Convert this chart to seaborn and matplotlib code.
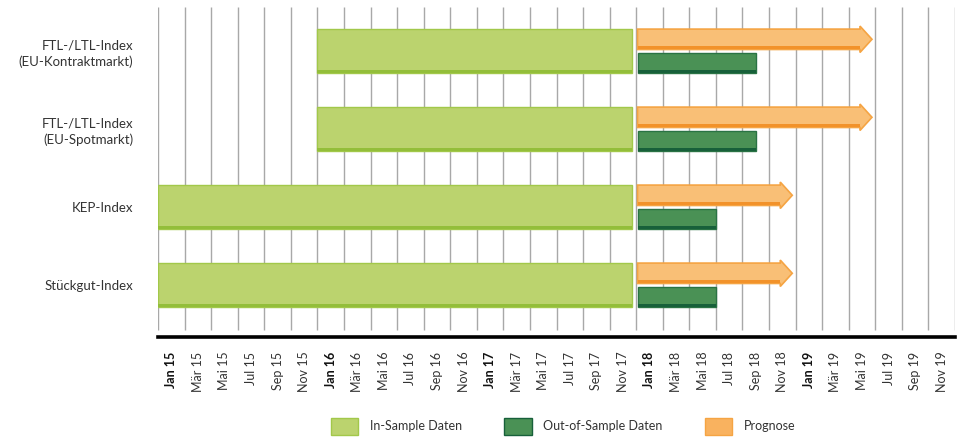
import numpy as np
import pandas as pd
import matplotlib
matplotlib.use("Agg")
import matplotlib.pyplot as plt
from matplotlib.patches import Patch, Polygon
import seaborn as sns

# ---------------- data ----------------
categories = ["FTL-/LTL-Index\n(EU-Kontraktmarkt)",
              "FTL-/LTL-Index\n(EU-Spotmarkt)",
              "KEP-Index",
              "Stückgut-Index"]
in_sample_start = ["2016-01", "2016-01", "2015-01", "2015-01"]
in_sample_end = ["2018-01", "2018-01", "2018-01", "2018-01"]
oos_start = ["2018-01", "2018-01", "2018-01", "2018-01"]
oos_end = ["2018-10", "2018-10", "2018-07", "2018-07"]
prog_start = ["2018-01", "2018-01", "2018-01", "2018-01"]
prog_end = ["2019-07", "2019-07", "2019-01", "2019-01"]
tick_labels = ["Jan 15", "Mär 15", "Mai 15", "Jul 15", "Sep 15", "Nov 15",
               "Jan 16", "Mär 16", "Mai 16", "Jul 16", "Sep 16", "Nov 16",
               "Jan 17", "Mär 17", "Mai 17", "Jul 17", "Sep 17", "Nov 17",
               "Jan 18", "Mär 18", "Mai 18", "Jul 18", "Sep 18", "Nov 18",
               "Jan 19", "Mär 19", "Mai 19", "Jul 19", "Sep 19", "Nov 19"]
legend_labels = ["In-Sample Daten", "Out-of-Sample Daten", "Prognose"]

origin = pd.Period("2015-01", freq="M")


def to_month(s):
    return (pd.Period(s, freq="M") - origin).n


df = pd.DataFrame({
    "cat": categories,
    "in_s": [to_month(s) for s in in_sample_start],
    "in_e": [to_month(s) for s in in_sample_end],
    "oos_s": [to_month(s) for s in oos_start],
    "oos_e": [to_month(s) for s in oos_end],
    "pr_s": [to_month(s) for s in prog_start],
    "pr_e": [to_month(s) for s in prog_end],
})

# ---------------- style ----------------
sns.set_theme(style="white")
plt.rcParams["font.family"] = ["Lato", "DejaVu Sans"]

C_IN, C_IN_E, C_IN_B = "#BBD36E", "#A2C84A", "#93BE3A"
C_OOS, C_OOS_E, C_OOS_B = "#4A9155", "#2A7344", "#17603A"
C_PR, C_PR_E, C_PR_B = "#F9BF76", "#F5A443", "#F2922A"

fig = plt.figure(figsize=(9.64, 4.38), dpi=100)
ax = fig.add_axes([158 / 964, 1 - 337 / 438, (955 - 158) / 964, (337 - 7) / 438])

px_y = 1 / 78.0          # one pixel in row units
px_x = 1 / 13.28         # one pixel in month units
n = len(categories)
rows = np.arange(n)

ax.set_xlim(0, 60)
ax.set_ylim(3.667, -0.564)

# gridlines every two months
ax.vlines(np.arange(0, 61, 2), -0.564, 3.577, color="#a8a8a8", lw=1.0, zorder=0)

# in-sample bars
h_in = 44 * px_y
gap = 0.3
ax.barh(rows, df["in_e"] - df["in_s"] - gap, left=df["in_s"], height=h_in,
        color=C_IN, edgecolor=C_IN_E, linewidth=1.0, zorder=2)
ax.barh(rows + h_in / 2 - 1.5 * px_y, df["in_e"] - df["in_s"] - gap, left=df["in_s"],
        height=3 * px_y, color=C_IN_B, linewidth=0, zorder=3)

# out-of-sample bars
h_oos = 20 * px_y
y_oos = rows + 12 * px_y
start_pad = 0.1
ax.barh(y_oos, df["oos_e"] - df["oos_s"] - start_pad, left=df["oos_s"] + start_pad,
        height=h_oos, color=C_OOS, edgecolor=C_OOS_E, linewidth=1.0, zorder=2)
ax.barh(y_oos + h_oos / 2 - 1.5 * px_y, df["oos_e"] - df["oos_s"] - start_pad,
        left=df["oos_s"] + start_pad, height=3 * px_y, color=C_OOS_B, linewidth=0, zorder=3)

# forecast arrows
for r, s, e in zip(rows, df["pr_s"], df["pr_e"]):
    yc = r - 11.7 * px_y
    hb = 10.2 * px_y
    hh = 13.2 * px_y
    tip = e - 0.25
    hl = 12 * px_x
    x0 = s + start_pad
    verts = [(x0, yc - hb), (tip - hl, yc - hb), (tip - hl, yc - hh), (tip, yc),
             (tip - hl, yc + hh), (tip - hl, yc + hb), (x0, yc + hb)]
    ax.add_patch(Polygon(verts, closed=True, facecolor=C_PR, edgecolor=C_PR_E,
                         linewidth=1.2, zorder=2, joinstyle="miter"))
    ax.add_patch(Polygon([(x0, yc + hb - 3 * px_y), (tip - hl, yc + hb - 3 * px_y),
                          (tip - hl, yc + hb), (x0, yc + hb)], closed=True,
                         facecolor=C_PR_B, edgecolor="none", zorder=3))

# axes styling
sns.despine(ax=ax, left=True, top=True, right=True, bottom=False)
ax.spines["bottom"].set_color("black")
ax.spines["bottom"].set_linewidth(2.6)
ax.set_yticks(rows)
ax.set_yticklabels(categories, fontsize=9.5, color="#333333", linespacing=1.35)
ax.tick_params(axis="y", length=0, pad=18)

ax.set_xticks(np.arange(1, 60, 2))
ax.set_xticklabels(tick_labels, rotation=90, fontsize=9, color="#333333", va="top", ha="center")
ax.tick_params(axis="x", length=0, pad=10.5)
for lbl in ax.get_xticklabels():
    if lbl.get_text().startswith("Jan"):
        lbl.set_fontweight("bold")
        lbl.set_color("#111111")
ax.set_xlabel("")
ax.set_ylabel("")

handles = [Patch(facecolor=C_IN, edgecolor=C_IN_E, linewidth=1.0),
           Patch(facecolor=C_OOS, edgecolor=C_OOS_B, linewidth=1.0),
           Patch(facecolor="#F9B25F", edgecolor=C_PR_E, linewidth=1.0)]
fig.legend(handles, legend_labels, loc="center", bbox_to_anchor=(0.584, 0.027),
           ncol=3, frameon=False, fontsize=9, handlelength=2.2, handleheight=1.7,
           handletextpad=0.9, columnspacing=3.4, labelcolor="#333333")

fig.savefig("out.png", dpi=100)
